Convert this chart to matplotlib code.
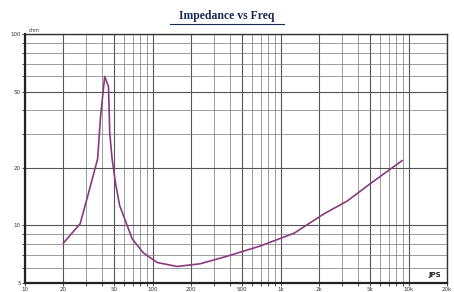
import matplotlib
matplotlib.use("Agg")
import matplotlib.pyplot as plt
from matplotlib.ticker import FixedLocator, NullFormatter

# Impedance curve (Hz, ohm)
freq = [20, 27, 31, 37, 39, 42, 45, 46, 48, 51, 55, 69, 84, 108, 155,
        234, 381, 690, 1273, 2186, 3311, 5010, 8913]
imp = [8.1, 10.2, 14.3, 22.3, 37.0, 60.0, 53.1, 30.5, 22.3, 16.7, 12.7,
       8.5, 7.2, 6.4, 6.1, 6.3, 6.9, 7.8, 9.1, 11.5, 13.4, 16.5, 21.8]

x_ticks = [10, 20, 50, 100, 200, 500, 1000, 2000, 5000, 10000, 20000]
x_labels = ["10", "20", "50", "100", "200", "500", "1k", "2k", "5k", "10k", "20k"]
y_ticks = [5, 10, 20, 50, 100]
y_labels = ["5", "10", "20", "50", "100"]

fig = plt.figure(figsize=(4.54, 2.92), dpi=100)
ax = fig.add_axes([25 / 454, 9 / 292, 422 / 454, 249 / 292])

ax.set_xscale("log")
ax.set_yscale("log")
ax.set_xlim(10, 20000)
ax.set_ylim(5, 100)

ax.set_xticks(x_ticks)
ax.set_xticklabels(x_labels)
ax.set_yticks(y_ticks)
ax.set_yticklabels(y_labels)
ax.xaxis.set_minor_formatter(NullFormatter())
ax.yaxis.set_minor_formatter(NullFormatter())
ax.tick_params(axis="both", which="both", labelsize=4, length=2,
               width=0.6, colors="#333333", pad=1)

# dense scanned-looking grid
ax.grid(True, which="major", color="#555555", linewidth=0.8)
ax.grid(True, which="minor", color="#777777", linewidth=0.5)

ax.plot(freq, imp, color="#8a3a7e", linewidth=1.2)

for side in ["left", "bottom"]:
    ax.spines[side].set_linewidth(1.6)
    ax.spines[side].set_color("#222222")
for side in ["top", "right"]:
    ax.spines[side].set_linewidth(1.0)
    ax.spines[side].set_color("#333333")

ax.text(0.01, 1.005, "ohm", transform=ax.transAxes, fontsize=3.5,
        color="#333333", va="bottom")
ax.text(0.985, 0.02, "JPS", transform=ax.transAxes, fontsize=5,
        color="#222222", ha="right", va="bottom", fontweight="bold")

# underlined title
fig.text(0.5, 0.925, "Impedance vs Freq", ha="center", va="bottom",
         fontsize=8.5, family="Liberation Serif", color="#1c2b55",
         fontweight="bold")
fig.add_artist(plt.Line2D([0.375, 0.625], [0.918, 0.918],
                          transform=fig.transFigure, color="#1c2b55",
                          linewidth=0.8))

fig.savefig("out.png", dpi=100)
